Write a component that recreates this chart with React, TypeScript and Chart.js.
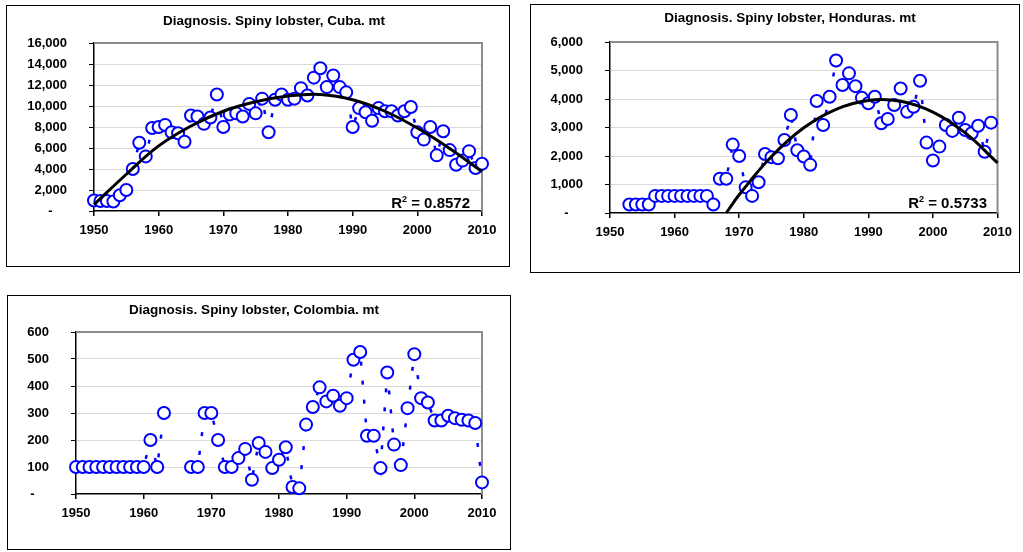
import React, { useEffect, useRef } from 'react';
import { Chart, registerables } from 'chart.js';

Chart.register(...registerables);

// ---------- data ----------
const cubaStart = 1950;
const cubaCatch = [
  1000, 950, 950, 900, 1500, 2000, 4000, 6500, 5200, 7900,
  8000, 8200, 7500, 7400, 6600, 9100, 9000, 8300, 8900, 11100,
  8000, 9200, 9300, 9000, 10200, 9300, 10700, 7500, 10600, 11100,
  10600, 10700, 11700, 11000, 12700, 13600, 11800, 12900, 11800, 11300,
  8000, 9800, 9400, 8600, 9800, 9500, 9500, 9100, 9500, 9900,
  7500, 6800, 8000, 5300, 7600, 5800, 4400, 4800, 5700, 4100,
  4500,
];
const cubaTrendYears = [1950, 1955, 1960, 1965, 1970, 1975, 1980, 1985, 1990, 1995, 2000, 2005, 2010];
const cubaTrend = [600, 3500, 6200, 8100, 9500, 10400, 10950, 11100, 10600, 9500, 7900, 5950, 3750];

const hondurasStart = 1953;
const hondurasCatch = [
  300, 300, 300, 300, 600, 600, 600, 600, 600, 600,
  600, 600, 600, 300, 1200, 1200, 2400, 2000, 900, 600,
  1080, 2070, 1960, 1920, 2560, 3440, 2200, 1980, 1690, 3930,
  3090, 4080, 5350, 4490, 4900, 4450, 4040, 3850, 4080, 3150,
  3300, 3790, 4370, 3550, 3730, 4640, 2470, 1840, 2330, 3090,
  2880, 3340, 2910, 2800, 3060, 2150, 3170,
];
const hondurasTrendYears = [1968, 1970, 1975, 1980, 1985, 1990, 1995, 2000, 2005, 2010];
const hondurasTrend = [0, 640, 1980, 2990, 3640, 3950, 3920, 3540, 2810, 1760];

const colombiaStart = 1950;
const colombiaCatch: (number | null)[] = [
  100, 100, 100, 100, 100, 100, 100, 100, 100, 100,
  100, 200, 100, 300, null, null, null, 100, 100, 300,
  300, 200, 100, 100, 133, 167, 53, 189, 156, 96,
  127, 173, 26, 21, 257, 322, 395, 343, 364, 327,
  355, 497, 526, 216, 216, 96, 450, 183, 107, 318,
  518, 355, 339, 272, 272, 290, 281, 275, 272, 263,
  43,
];

const titles = [
  'Diagnosis. Spiny lobster, Cuba. mt',
  'Diagnosis. Spiny lobster, Honduras. mt',
  'Diagnosis. Spiny lobster, Colombia. mt',
];
const r2Labels = ['0.8572', '0.5733'];
const xTicks = { min: 1950, max: 2010, step: 10 };

// ---------- helpers ----------
const FONT = "'Liberation Sans', Arial, sans-serif";
const BLUE = '#0000ff';

const toPoints = (start: number, vals: (number | null)[]) =>
  vals.map((v, i) => ({ x: start + i, y: v }));
const pair = (xs: number[], ys: number[]) => xs.map((x, i) => ({ x, y: ys[i] }));

const seriesDataset = (pts: any[]) => ({
  data: pts,
  borderColor: BLUE,
  borderWidth: 2.5,
  borderDash: [4, 15],
  pointRadius: 6,
  pointBorderWidth: 2,
  pointBackgroundColor: '#ffffff',
  pointBorderColor: BLUE,
  pointHoverRadius: 6,
  spanGaps: false,
  clip: false as any,
  order: 1,
  tension: 0,
});

const trendDataset = (pts: any[]) => ({
  data: pts,
  borderColor: '#000000',
  borderWidth: 3,
  pointRadius: 0,
  pointHoverRadius: 0,
  tension: 0.4,
  clip: false as any,
  order: 0,
});

const panelPlugin = {
  id: 'panel',
  beforeDatasetsDraw(chart: any) {
    const { ctx, chartArea: a } = chart;
    ctx.save();
    ctx.strokeStyle = '#8c8c8c';
    ctx.lineWidth = 2;
    ctx.beginPath();
    ctx.moveTo(a.left, a.top);
    ctx.lineTo(a.right, a.top);
    ctx.lineTo(a.right, a.bottom);
    ctx.stroke();
    ctx.restore();
  },
  afterDraw(chart: any, _args: any, opts: any) {
    const { ctx } = chart;
    ctx.save();
    ctx.fillStyle = '#000';
    ctx.font = `bold 13.5px ${FONT}`;
    ctx.textAlign = 'center';
    ctx.textBaseline = 'middle';
    ctx.fillText(opts.title, opts.titleX, opts.titleY);
    if (opts.r2) {
      ctx.textAlign = 'left';
      ctx.textBaseline = 'alphabetic';
      const big = `bold 15px ${FONT}`;
      const small = `bold 9px ${FONT}`;
      ctx.font = big;
      const rest = ' = ' + opts.r2;
      const wR = ctx.measureText('R').width;
      const wRest = ctx.measureText(rest).width;
      ctx.font = small;
      const w2 = ctx.measureText('2').width;
      const x0 = opts.r2X - wRest - w2 - wR;
      ctx.font = big;
      ctx.fillText('R', x0, opts.r2Y);
      ctx.font = small;
      ctx.fillText('2', x0 + wR, opts.r2Y - 6);
      ctx.font = big;
      ctx.fillText(rest, x0 + wR + w2, opts.r2Y);
    }
    ctx.restore();
  },
};

type PanelProps = {
  frame: { left: number; top: number; width: number; height: number };
  plot: { left: number; top: number; right: number; bottom: number };
  yMax: number;
  yStep: number;
  title: string;
  titleX: number;
  titleY: number;
  r2?: string;
  r2X?: number;
  r2Y?: number;
  datasets: any[];
};

function Panel(p: PanelProps) {
  const ref = useRef<HTMLCanvasElement>(null);
  const w = p.frame.width - 2;
  const h = p.frame.height - 2;
  useEffect(() => {
    const tickFont = { family: FONT, weight: 'bold' as const, size: 13 };
    const chart = new Chart(ref.current!, {
      type: 'line',
      data: { datasets: p.datasets },
      options: {
        responsive: false,
        animation: false,
        devicePixelRatio: 1,
        events: [],
        layout: { padding: { left: 0, top: p.plot.top, right: w - p.plot.right, bottom: 0 } },
        plugins: {
          legend: { display: false },
          title: { display: false },
          tooltip: { enabled: false },
          panel: {
            title: p.title,
            titleX: p.titleX,
            titleY: p.titleY,
            r2: p.r2,
            r2X: p.r2X,
            r2Y: p.r2Y,
          },
        } as any,
        scales: {
          x: {
            type: 'linear',
            min: xTicks.min,
            max: xTicks.max,
            afterFit: (s: any) => {
              s.height = h - p.plot.bottom;
            },
            ticks: {
              stepSize: xTicks.step,
              padding: 7,
              font: tickFont,
              color: '#000',
              maxRotation: 0,
              callback: (v: any) => String(v),
            },
            grid: {
              drawOnChartArea: false,
              tickLength: 5,
              tickColor: '#000',
              lineWidth: 1.5,
            },
            border: { color: '#000', width: 1.5 },
          },
          y: {
            type: 'linear',
            min: 0,
            max: p.yMax,
            afterFit: (s: any) => {
              s.width = p.plot.left;
            },
            ticks: {
              stepSize: p.yStep,
              padding: 22,
              font: tickFont,
              color: '#000',
              callback: (v: any) =>
                v === 0 ? '-\u00a0\u00a0\u00a0\u00a0' : Number(v).toLocaleString('en-US'),
            },
            grid: {
              color: (c: any) => (c.tick && c.tick.value === 0 ? 'rgba(0,0,0,0)' : '#d9d9d9'),
              tickLength: 5,
              tickColor: '#000',
              lineWidth: 1,
            },
            border: { color: '#000', width: 1.5 },
          },
        },
      } as any,
      plugins: [panelPlugin],
    });
    return () => chart.destroy();
  }, []);
  return (
    <div
      style={{
        position: 'absolute',
        left: p.frame.left,
        top: p.frame.top,
        width: p.frame.width,
        height: p.frame.height,
        boxSizing: 'border-box',
        border: '1px solid #000',
        background: '#fff',
      }}
    >
      <canvas ref={ref} width={w} height={h} style={{ display: 'block', width: w, height: h }} />
    </div>
  );
}

export default function App() {
  return (
    <div style={{ position: 'absolute', left: 0, top: 0, width: 1023, height: 552, background: '#fff' }}>
      <Panel
        frame={{ left: 6, top: 5, width: 504, height: 262 }}
        plot={{ left: 87, top: 37, right: 475, bottom: 205 }}
        yMax={16000}
        yStep={2000}
        title={titles[0]}
        titleX={267}
        titleY={15}
        r2={r2Labels[0]}
        r2X={463}
        r2Y={202}
        datasets={[
          trendDataset(pair(cubaTrendYears, cubaTrend)),
          seriesDataset(toPoints(cubaStart, cubaCatch)),
        ]}
      />
      <Panel
        frame={{ left: 530, top: 4, width: 490, height: 269 }}
        plot={{ left: 79, top: 37, right: 475, bottom: 208 }}
        yMax={6000}
        yStep={1000}
        title={titles[1]}
        titleX={259}
        titleY={13.5}
        r2={r2Labels[1]}
        r2X={456}
        r2Y={203}
        datasets={[
          trendDataset(pair(hondurasTrendYears, hondurasTrend)),
          seriesDataset(toPoints(hondurasStart, hondurasCatch)),
        ]}
      />
      <Panel
        frame={{ left: 7, top: 295, width: 504, height: 255 }}
        plot={{ left: 68, top: 36, right: 474, bottom: 198 }}
        yMax={600}
        yStep={100}
        title={titles[2]}
        titleX={246}
        titleY={14}
        datasets={[seriesDataset(toPoints(colombiaStart, colombiaCatch))]}
      />
    </div>
  );
}
